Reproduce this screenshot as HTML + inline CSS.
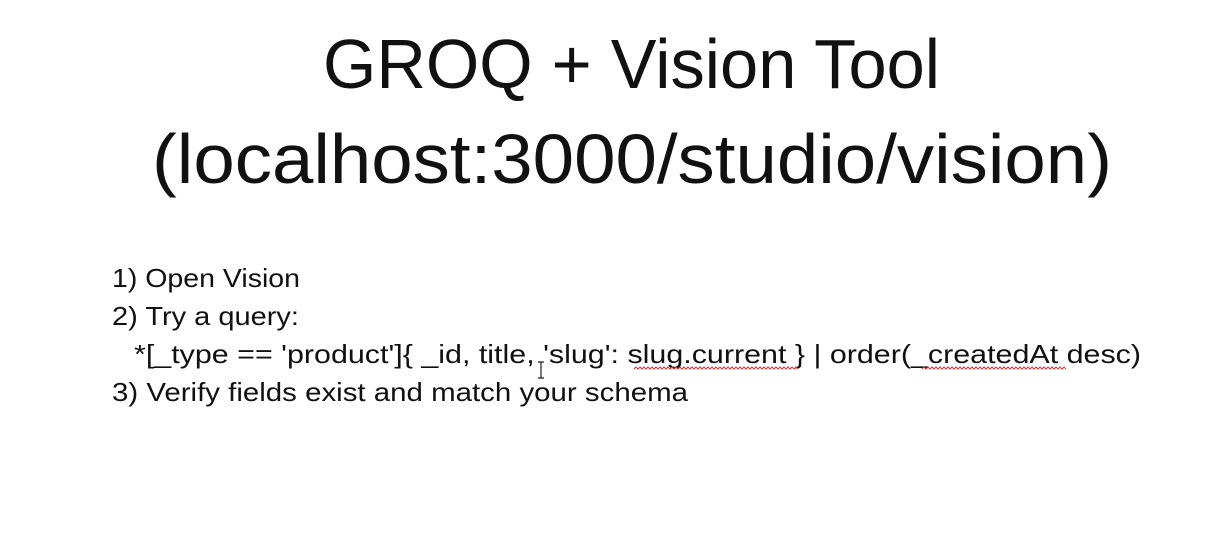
<!DOCTYPE html>
<html><head><meta charset="utf-8"><style>
html,body{margin:0;padding:0;background:#fff;}
svg{display:block;}
text{font-family:"Liberation Sans",sans-serif;fill:#111;}
</style></head><body>
<svg width="1214" height="538" viewBox="0 0 1214 538" xmlns="http://www.w3.org/2000/svg">
<rect width="1214" height="538" fill="#fff"/>
<text x="323" y="88" font-size="70" textLength="617" lengthAdjust="spacingAndGlyphs">GROQ + Vision Tool</text>
<text x="152" y="183" font-size="70" textLength="960" lengthAdjust="spacingAndGlyphs">(localhost:3000/studio/vision)</text>
<text x="112" y="287" font-size="26" textLength="188" lengthAdjust="spacingAndGlyphs">1) Open Vision</text>
<text x="112" y="325" font-size="26" textLength="187" lengthAdjust="spacingAndGlyphs">2) Try a query:</text>
<text x="134" y="363" font-size="26" textLength="1007" lengthAdjust="spacingAndGlyphs">*[_type == 'product']{ _id, title, 'slug': slug.current } | order(_createdAt desc)</text>
<text x="112" y="401" font-size="26" textLength="576" lengthAdjust="spacingAndGlyphs">3) Verify fields exist and match your schema</text>
<path d="M634 369 l2 -2 l2 2 l2 -2 l2 2 l2 -2 l2 2 l2 -2 l2 2 l2 -2 l2 2 l2 -2 l2 2 l2 -2 l2 2 l2 -2 l2 2 l2 -2 l2 2 l2 -2 l2 2 l2 -2 l2 2 l2 -2 l2 2 l2 -2 l2 2 l2 -2 l2 2 l2 -2 l2 2 l2 -2 l2 2 l2 -2 l2 2 l2 -2 l2 2 l2 -2 l2 2 l2 -2 l2 2 l2 -2 l2 2 l2 -2 l2 2 l2 -2 l2 2 l2 -2 l2 2 l2 -2 l2 2 l2 -2 l2 2 l2 -2 l2 2 l2 -2 l2 2 l2 -2 l2 2 l2 -2 l2 2 l2 -2 l2 2 l2 -2 l2 2 l2 -2 l2 2 l2 -2 l2 2 l2 -2 l2 2 l2 -2 l2 2 l2 -2 l2 2 l2 -2 l2 2 l2 -2 l2 2 l2 -2 l2 2 l2 -2 l2 2" fill="none" stroke="#e03030" stroke-width="1"/>
<path d="M922 369 l2 -2 l2 2 l2 -2 l2 2 l2 -2 l2 2 l2 -2 l2 2 l2 -2 l2 2 l2 -2 l2 2 l2 -2 l2 2 l2 -2 l2 2 l2 -2 l2 2 l2 -2 l2 2 l2 -2 l2 2 l2 -2 l2 2 l2 -2 l2 2 l2 -2 l2 2 l2 -2 l2 2 l2 -2 l2 2 l2 -2 l2 2 l2 -2 l2 2 l2 -2 l2 2 l2 -2 l2 2 l2 -2 l2 2 l2 -2 l2 2 l2 -2 l2 2 l2 -2 l2 2 l2 -2 l2 2 l2 -2 l2 2 l2 -2 l2 2 l2 -2 l2 2 l2 -2 l2 2 l2 -2 l2 2 l2 -2 l2 2 l2 -2 l2 2 l2 -2 l2 2 l2 -2 l2 2 l2 -2 l2 2 l2 -2 l2 2" fill="none" stroke="#e03030" stroke-width="1"/>
<path d="M538 362 h6 M541 362 v16 M538 378 h6" stroke="#222" stroke-width="1.2" fill="none"/>
</svg>
</body></html>
